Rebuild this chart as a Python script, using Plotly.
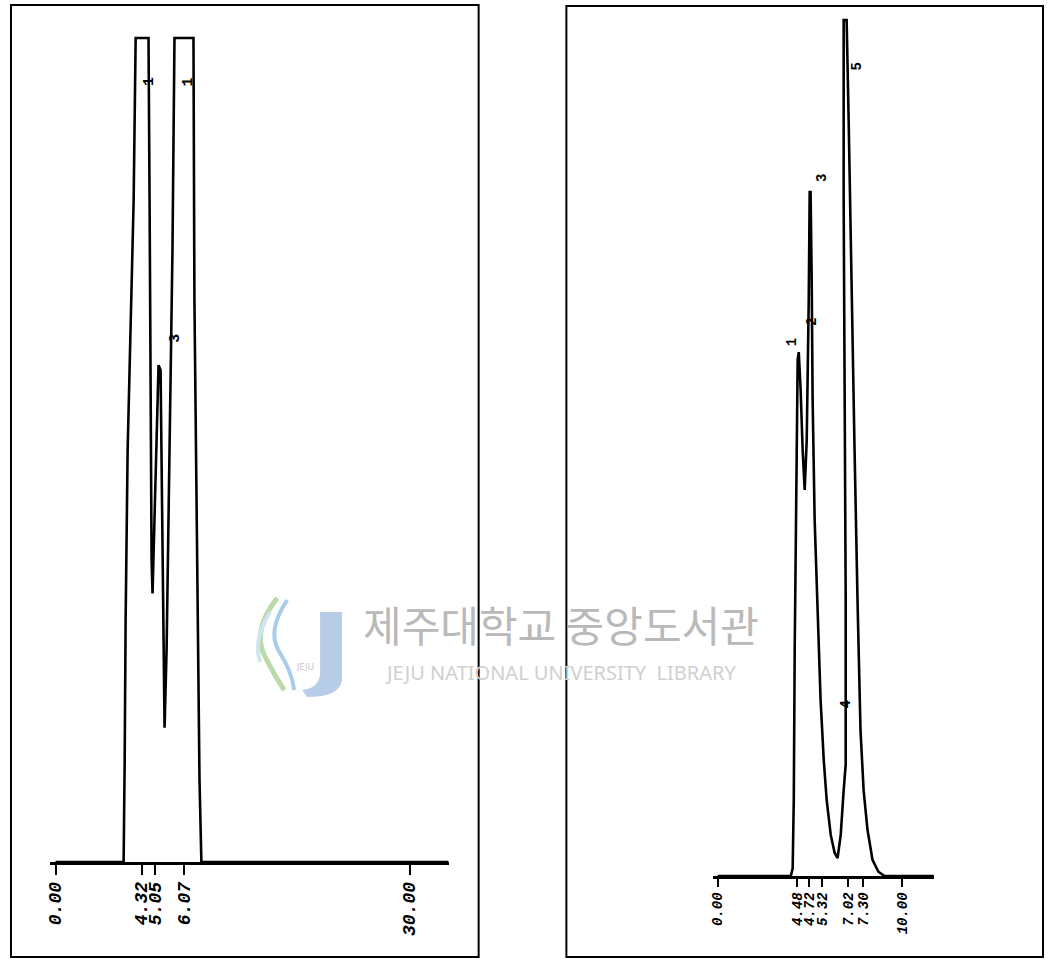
import plotly.graph_objects as go

# ---------------- data ----------------
# Left chromatogram: time (min, chart scale) and signal (% of full scale)
left_time = [0.0, 5.77, 5.86, 5.94, 6.11, 6.36, 6.62, 6.79, 7.88, 7.97, 8.05, 8.14, 8.22,
             8.48, 8.73, 8.90, 9.07, 9.24, 9.41, 9.58, 9.75, 9.91, 10.08, 11.69, 11.77,
             12.03, 12.20, 12.36, 33.3]
left_signal = [0, 0, 12.4, 29.4, 50.0, 64.6, 80.3, 100, 100, 80.3, 56.1, 36.7, 32.6,
               46.4, 60.3, 59.7, 36.7, 16.3, 25.7, 41.5, 56.1, 74.3, 100, 100, 68.2,
               31.8, 10.0, 0, 0]
left_tick_labels = ["0.00", "4.32", "5.05", "6.07", "30.00"]
left_tick_at = [0, 7.29, 8.47, 10.90, 30]
left_peak_labels = ["1", "3", "1"]
left_peak_time = [7.95, 10.2, 11.3]
left_peak_signal = [94.7, 63.6, 94.7]

# Right chromatogram
right_time = [0.0, 3.96, 4.06, 4.12, 4.17, 4.23, 4.28, 4.33, 4.39, 4.49, 4.60, 4.71, 4.82,
              4.87, 4.93, 4.98, 5.03, 5.09, 5.14, 5.25, 5.41, 5.57, 5.74, 5.90, 6.12,
              6.33, 6.49, 6.66, 6.82, 6.93, 6.93, 6.87, 6.82, 6.82, 6.98, 7.09, 7.25,
              7.41, 7.57, 7.68, 7.73, 7.90, 8.11, 8.38, 8.70, 9.03, 11.7]
right_signal = [0, 0, 0.9, 8.9, 26.4, 39.3, 53.3, 60.3, 61.2, 56.8, 49.8, 45.1, 50.9,
                57.9, 67.3, 79.9, 79.9, 69.6, 55.6, 41.6, 29.9, 20.6, 13.6, 8.9, 4.8,
                2.7, 2.1, 4.8, 10.0, 13.0, 32.2, 55.6, 79.0, 100, 100, 88.3, 67.3,
                49.8, 32.2, 21.7, 17.1, 10.0, 5.4, 1.9, 0.5, 0, 0]
right_tick_labels = ["0.00", "4.48", "4.72", "5.32", "7.02", "7.30", "10.00"]
right_tick_at = [0, 4.30, 4.97, 5.65, 7.06, 7.88, 10]
right_peak_labels = ["1", "2", "3", "4", "5"]
right_peak_time = [4.0, 5.09, 5.68, 6.93, 7.57]
right_peak_signal = [62.3, 64.7, 81.5, 20.0, 94.5]

W, H = 1049, 959


def px(x):
    return x / W


def py(y):
    return 1 - y / H


fig = go.Figure()
fig.add_trace(go.Scatter(x=left_time, y=left_signal, mode="lines",
                         line=dict(color="black", width=2.6), xaxis="x", yaxis="y",
                         showlegend=False, hoverinfo="skip"))
fig.add_trace(go.Scatter(x=right_time, y=right_signal, mode="lines",
                         line=dict(color="black", width=2.6), xaxis="x2", yaxis="y2",
                         showlegend=False, hoverinfo="skip"))

tickfont_l = dict(family="Liberation Mono", size=18, color="black", weight="bold", style="italic")
tickfont_r = dict(family="Liberation Mono", size=14, color="black", weight="bold", style="italic")

fig.update_layout(
    width=W, height=H, autosize=False,
    margin=dict(l=0, r=0, t=0, b=0),
    paper_bgcolor="white", plot_bgcolor="rgba(0,0,0,0)",
    xaxis=dict(domain=[px(47), px(447)], range=[-0.48, 33.32], anchor="y",
               showgrid=False, zeroline=False, showline=True, linecolor="black", linewidth=2.5,
               ticks="outside", ticklen=10, tickwidth=2, tickcolor="black",
               tickvals=left_tick_at, ticktext=left_tick_labels, tickangle=-90,
               tickfont=tickfont_l),
    yaxis=dict(domain=[py(862), py(30)], range=[0, 100.97], anchor="x",
               visible=False, showgrid=False, zeroline=False),
    xaxis2=dict(domain=[px(712), px(934)], range=[-0.254, 11.727], anchor="y2",
                showgrid=False, zeroline=False, showline=True, linecolor="black", linewidth=2.5,
                ticks="outside", ticklen=8, tickwidth=2, tickcolor="black",
                tickvals=right_tick_at, ticktext=right_tick_labels, tickangle=-90,
                tickfont=tickfont_r),
    yaxis2=dict(domain=[py(876), py(15)], range=[0, 100.58], anchor="x2",
                visible=False, showgrid=False, zeroline=False),
)

# peak number labels
for lab, t, s in zip(left_peak_labels, left_peak_time, left_peak_signal):
    fig.add_annotation(x=t, y=s, xref="x", yref="y", text=lab, showarrow=False,
                       textangle=-90, font=dict(family="Liberation Mono", size=15,
                                                color="black", weight="bold"))
for lab, t, s in zip(right_peak_labels, right_peak_time, right_peak_signal):
    fig.add_annotation(x=t, y=s, xref="x2", yref="y2", text=lab, showarrow=False,
                       textangle=-90, font=dict(family="Liberation Mono", size=14,
                                                color="black", weight="bold"))

# panel frames
fig.add_shape(type="rect", xref="paper", yref="paper", x0=px(8), x1=px(477), y0=py(957), y1=py(5),
              line=dict(color="black", width=2))
fig.add_shape(type="rect", xref="paper", yref="paper", x0=px(565), x1=px(1043), y0=py(957), y1=py(6),
              line=dict(color="black", width=2))

# watermark (library stamp)
fig.add_annotation(x=px(560), y=py(656), xref="paper", yref="paper", text="제주대학교 중앙도서관",
                   showarrow=False, font=dict(family="Noto Sans CJK KR", size=42, color="#b9b9b9"))
fig.add_annotation(x=px(560), y=py(688), xref="paper", yref="paper",
                   text="JEJU NATIONAL UNIVERSITY  LIBRARY", showarrow=False,
                   font=dict(family="Noto Sans", size=20, color="#cfcfcf"))
# logo: J bar and swooshes
fig.add_shape(type="path", xref="paper", yref="paper",
              path=f"M {px(318)},{py(612)} L {px(340)},{py(612)} L {px(340)},{py(680)} "
                   f"Q {px(338)},{py(697)} {px(305)},{py(697)} L {px(300)},{py(690)} "
                   f"Q {px(318)},{py(688)} {px(318)},{py(672)} Z",
              fillcolor="#b7cce6", line=dict(width=0))
fig.add_shape(type="path", xref="paper", yref="paper",
              path=f"M {px(275)},{py(598)} Q {px(250)},{py(630)} {px(262)},{py(655)} "
                   f"Q {px(272)},{py(675)} {px(282)},{py(690)}",
              line=dict(color="#bcd9a8", width=5))
fig.add_shape(type="path", xref="paper", yref="paper",
              path=f"M {px(285)},{py(600)} Q {px(265)},{py(630)} {px(276)},{py(650)} "
                   f"Q {px(290)},{py(672)} {px(292)},{py(690)}",
              line=dict(color="#a9cde8", width=4))
fig.add_shape(type="path", xref="paper", yref="paper",
              path=f"M {px(268)},{py(612)} Q {px(250)},{py(640)} {px(258)},{py(662)}",
              line=dict(color="#cde6ef", width=4))
fig.add_annotation(x=px(292), y=py(675), xref="paper", yref="paper", text="JEJU",
                   showarrow=False, font=dict(family="Noto Sans", size=9, color="#c8c8c8"))

fig.write_html("out.html", config={"displayModeBar": False},
               post_script="document.body.style.margin='0';document.body.style.overflow='hidden';")
